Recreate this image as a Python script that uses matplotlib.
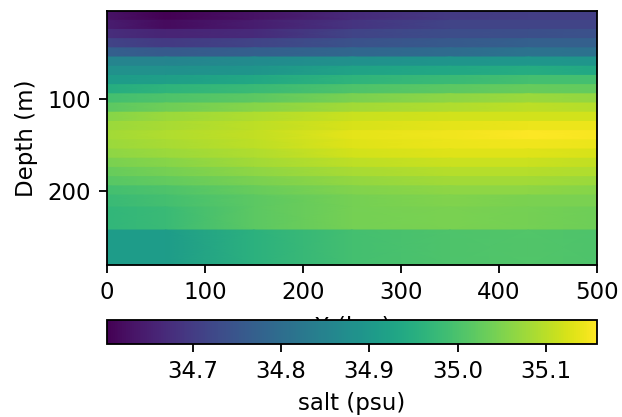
import numpy as np
import matplotlib
matplotlib.use("Agg")
import matplotlib.pyplot as plt

# x positions (km) where the salinity section was read
xPos = [0, 60, 150, 250, 350, 430, 500]

# layer edges (m), top to bottom
layerEdges = [4, 14, 24, 34, 44, 54, 64, 74, 84, 94, 104, 114, 124, 134,
              144, 154, 164, 174, 184, 194, 204, 217, 242, 280]

# salinity (psu) per layer (rows) at each x position (cols)
salt = [
  [34.631, 34.603, 34.631, 34.670, 34.697, 34.703, 34.703],
  [34.647, 34.620, 34.647, 34.686, 34.714, 34.714, 34.714],
  [34.675, 34.659, 34.670, 34.714, 34.731, 34.736, 34.742],
  [34.714, 34.697, 34.714, 34.742, 34.758, 34.770, 34.770],
  [34.770, 34.758, 34.770, 34.786, 34.797, 34.814, 34.808],
  [34.853, 34.853, 34.869, 34.881, 34.892, 34.897, 34.892],
  [34.881, 34.881, 34.892, 34.925, 34.936, 34.947, 34.936],
  [34.908, 34.914, 34.936, 34.964, 34.980, 34.992, 34.992],
  [34.947, 34.964, 34.980, 35.003, 35.019, 35.030, 35.025],
  [34.992, 35.003, 35.019, 35.047, 35.064, 35.075, 35.069],
  [35.019, 35.036, 35.058, 35.080, 35.091, 35.103, 35.097],
  [35.058, 35.075, 35.091, 35.114, 35.119, 35.119, 35.119],
  [35.075, 35.086, 35.103, 35.125, 35.136, 35.141, 35.141],
  [35.080, 35.091, 35.108, 35.136, 35.147, 35.158, 35.152],
  [35.075, 35.086, 35.103, 35.130, 35.141, 35.147, 35.141],
  [35.064, 35.075, 35.091, 35.119, 35.130, 35.130, 35.125],
  [35.047, 35.058, 35.080, 35.103, 35.114, 35.114, 35.108],
  [35.030, 35.041, 35.064, 35.086, 35.097, 35.097, 35.091],
  [35.014, 35.025, 35.047, 35.069, 35.080, 35.080, 35.075],
  [34.992, 35.003, 35.030, 35.053, 35.064, 35.064, 35.058],
  [34.980, 34.992, 35.019, 35.041, 35.053, 35.047, 35.047],
  [34.969, 34.980, 35.019, 35.041, 35.047, 35.041, 35.036],
  [34.908, 34.908, 34.958, 34.992, 35.003, 35.008, 35.003],
]

### build a mesh: each layer gets a top and bottom row so that gouraud only blends along x ###
S = np.array(salt)
edges = np.array(layerEdges, dtype=float)
yRows = np.column_stack([edges[:-1], edges[1:]]).ravel()
cRows = np.repeat(S, 2, axis=0)
X, Y = np.meshgrid(np.array(xPos, dtype=float), yRows)

DPI = 165
fig = plt.figure(figsize=(622 / DPI, 417 / DPI), dpi=DPI)
ax = fig.add_axes([107 / 622, 1 - 265 / 417, 490 / 622, 254 / 417])
pc = ax.pcolormesh(X, Y, cRows, shading='gouraud', cmap='viridis')
ax.set_xlim(0, 500)
ax.set_ylim(edges[-1], edges[0])
ax.set_yticks([100, 200])
ax.set_ylabel('Depth (m)')
ax.set_xlabel('X (km)', labelpad=4.8)

# colorbar sits on top of (and mostly hides) the x label
cax = fig.add_axes([107 / 622, 1 - 344 / 417, 490 / 622, 24 / 417])
cb = fig.colorbar(pc, cax=cax, orientation='horizontal')
cb.set_label('salt (psu)')

fig.savefig('out.png', dpi=DPI)
plt.close(fig)
